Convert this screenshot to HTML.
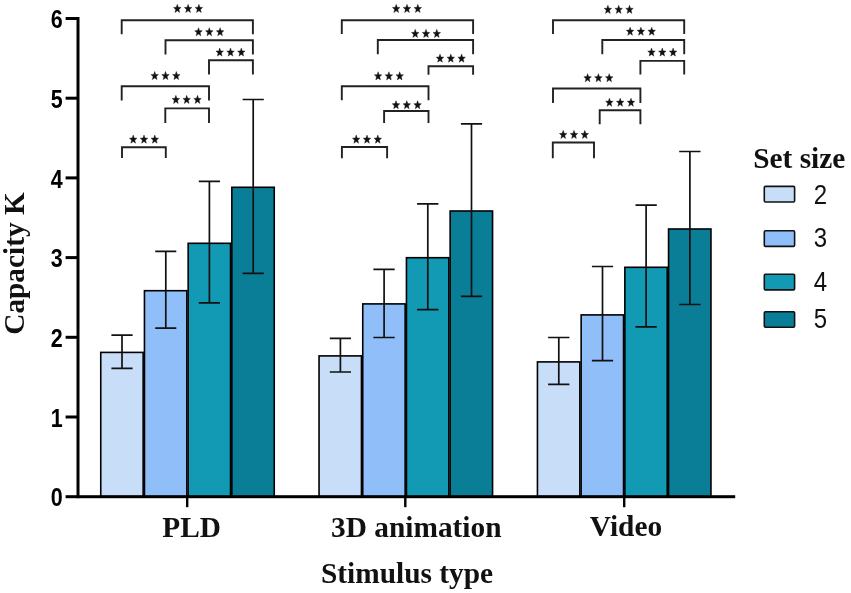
<!DOCTYPE html>
<html><head><meta charset="utf-8"><title>Capacity K by stimulus type</title>
<style>
html,body{margin:0;padding:0;background:#fff;}
body{width:851px;height:593px;overflow:hidden;}
svg{display:block;filter:blur(0.35px);}
.sb{font-family:"Liberation Serif",serif;font-weight:bold;font-size:29.35px;fill:#111;}
.nb{font-family:"Liberation Sans",sans-serif;font-weight:bold;font-size:25px;fill:#000;}
.nr{font-family:"Liberation Sans",sans-serif;font-size:27.6px;fill:#111;}
.st{font-family:"Liberation Sans",sans-serif;font-size:26px;fill:#111;}
</style></head><body>
<svg width="851" height="593" viewBox="0 0 851 593">
<rect width="851" height="593" fill="#fff"/>

<g stroke="#000" stroke-width="1.6">
<rect x="100.75" y="352.4" width="42.4" height="144.3" fill="#c8ddf8"/>
<rect x="144.45" y="290.7" width="42.4" height="206.0" fill="#90bef8"/>
<rect x="188.15" y="243.3" width="42.4" height="253.4" fill="#1299b4"/>
<rect x="231.85" y="187.3" width="42.4" height="309.4" fill="#0a7e96"/>
</g>
<g stroke="#111" stroke-width="1.7" fill="none">
<path d="M111.4 335.1H132.6M111.4 368.4H132.6M122.0 335.1V368.4"/>
<path d="M155.2 251.3H176.3M155.2 328.1H176.3M165.8 251.3V328.1"/>
<path d="M198.8 181.3H220.0M198.8 302.8H220.0M209.4 181.3V302.8"/>
<path d="M242.6 99.5H263.8M242.6 273.4H263.8M253.2 99.5V273.4"/>
</g>
<g stroke="#000" stroke-width="1.6">
<rect x="319.05" y="355.9" width="42.4" height="140.8" fill="#c8ddf8"/>
<rect x="362.75" y="303.9" width="42.4" height="192.8" fill="#90bef8"/>
<rect x="406.45" y="257.7" width="42.4" height="239.0" fill="#1299b4"/>
<rect x="450.15" y="211.0" width="42.4" height="285.7" fill="#0a7e96"/>
</g>
<g stroke="#111" stroke-width="1.7" fill="none">
<path d="M329.8 338.4H351.0M329.8 372.0H351.0M340.4 338.4V372.0"/>
<path d="M373.4 269.3H394.7M373.4 337.5H394.7M384.1 269.3V337.5"/>
<path d="M417.1 203.9H438.4M417.1 309.6H438.4M427.8 203.9V309.6"/>
<path d="M460.9 123.9H482.1M460.9 296.4H482.1M471.5 123.9V296.4"/>
</g>
<g stroke="#000" stroke-width="1.6">
<rect x="537.45" y="361.9" width="42.4" height="134.8" fill="#c8ddf8"/>
<rect x="581.15" y="314.9" width="42.4" height="181.8" fill="#90bef8"/>
<rect x="624.85" y="267.3" width="42.4" height="229.4" fill="#1299b4"/>
<rect x="668.55" y="229.0" width="42.4" height="267.7" fill="#0a7e96"/>
</g>
<g stroke="#111" stroke-width="1.7" fill="none">
<path d="M548.1 337.5H569.4M548.1 384.4H569.4M558.8 337.5V384.4"/>
<path d="M591.9 266.5H613.1M591.9 360.7H613.1M602.5 266.5V360.7"/>
<path d="M635.5 205.1H656.8M635.5 326.8H656.8M646.1 205.1V326.8"/>
<path d="M679.2 151.5H700.5M679.2 304.5H700.5M689.9 151.5V304.5"/>
</g>
<g fill="#000">
<rect x="76.5" y="17.0" width="3" height="481.2"/>
<rect x="65.6" y="495.2" width="669.6" height="3"/>
<rect x="65.6" y="415.5" width="12" height="3"/>
<rect x="65.6" y="335.8" width="12" height="3"/>
<rect x="65.6" y="256.1" width="12" height="3"/>
<rect x="65.6" y="176.4" width="12" height="3"/>
<rect x="65.6" y="96.7" width="12" height="3"/>
<rect x="65.6" y="17.0" width="12" height="3"/>
<rect x="186.0" y="496.7" width="2.4" height="10.5"/>
<rect x="404.1" y="496.7" width="2.4" height="10.5"/>
<rect x="623.0" y="496.7" width="2.4" height="10.5"/>
</g>
<text class="nb" transform="translate(62.6 506.4) scale(0.86 1)" text-anchor="end">0</text>
<text class="nb" transform="translate(62.6 426.7) scale(0.86 1)" text-anchor="end">1</text>
<text class="nb" transform="translate(62.6 347.0) scale(0.86 1)" text-anchor="end">2</text>
<text class="nb" transform="translate(62.6 267.3) scale(0.86 1)" text-anchor="end">3</text>
<text class="nb" transform="translate(62.6 187.6) scale(0.86 1)" text-anchor="end">4</text>
<text class="nb" transform="translate(62.6 107.9) scale(0.86 1)" text-anchor="end">5</text>
<text class="nb" transform="translate(62.6 28.2) scale(0.86 1)" text-anchor="end">6</text>
<g stroke="#222" stroke-width="1.9" fill="none" stroke-linejoin="miter">
<path d="M121.7 34.3V20.2H252.9V34.3"/>
<path d="M165.5 54.4V40.2H252.9V54.4"/>
<path d="M209.0 74.5V60.2H252.9V74.5"/>
<path d="M121.7 100.6V86.2H209.0V100.6"/>
<path d="M165.3 123.1V108.4H209.0V123.1"/>
<path d="M122.0 158.1V147.2H165.8V158.1"/>
<path d="M341.8 34.1V20.2H473.1V34.1"/>
<path d="M377.8 54.2V40.0H473.1V54.2"/>
<path d="M428.5 74.8V66.3H473.1V74.8"/>
<path d="M341.8 100.3V86.2H428.5V100.3"/>
<path d="M384.1 122.9V111.0H428.5V122.9"/>
<path d="M341.9 158.3V147.0H387.1V158.3"/>
<path d="M553.0 34.1V20.2H684.2V34.1"/>
<path d="M602.3 54.3V40.0H684.2V54.3"/>
<path d="M640.4 74.5V60.9H684.2V74.5"/>
<path d="M553.0 103.0V88.5H640.4V103.0"/>
<path d="M599.7 124.3V110.2H640.4V124.3"/>
<path d="M552.8 158.3V142.5H594.0V158.3"/>
</g>
<g fill="#111" stroke="#111" stroke-width="0.4" stroke-linejoin="round">
<path d="M177.30 4.36L178.31 7.28L181.07 7.47L178.93 9.46L179.63 12.50L177.30 10.81L174.97 12.50L175.67 9.46L173.53 7.47L176.29 7.28ZM188.10 4.36L189.11 7.28L191.87 7.47L189.73 9.46L190.43 12.50L188.10 10.81L185.77 12.50L186.47 9.46L184.33 7.47L187.09 7.28ZM198.90 4.36L199.91 7.28L202.67 7.47L200.53 9.46L201.23 12.50L198.90 10.81L196.57 12.50L197.27 9.46L195.13 7.47L197.89 7.28Z"/>
<path d="M198.50 27.66L199.51 30.58L202.27 30.77L200.13 32.76L200.83 35.80L198.50 34.11L196.17 35.80L196.87 32.76L194.73 30.77L197.49 30.58ZM209.30 27.66L210.31 30.58L213.07 30.77L210.93 32.76L211.63 35.80L209.30 34.11L206.97 35.80L207.67 32.76L205.53 30.77L208.29 30.58ZM220.10 27.66L221.11 30.58L223.87 30.77L221.73 32.76L222.43 35.80L220.10 34.11L217.77 35.80L218.47 32.76L216.33 30.77L219.09 30.58Z"/>
<path d="M219.70 47.96L220.71 50.88L223.47 51.07L221.33 53.06L222.03 56.10L219.70 54.41L217.37 56.10L218.07 53.06L215.93 51.07L218.69 50.88ZM230.50 47.96L231.51 50.88L234.27 51.07L232.13 53.06L232.83 56.10L230.50 54.41L228.17 56.10L228.87 53.06L226.73 51.07L229.49 50.88ZM241.30 47.96L242.31 50.88L245.07 51.07L242.93 53.06L243.63 56.10L241.30 54.41L238.97 56.10L239.67 53.06L237.53 51.07L240.29 50.88Z"/>
<path d="M154.70 71.46L155.71 74.38L158.47 74.57L156.33 76.56L157.03 79.60L154.70 77.91L152.37 79.60L153.07 76.56L150.93 74.57L153.69 74.38ZM165.50 71.46L166.51 74.38L169.27 74.57L167.13 76.56L167.83 79.60L165.50 77.91L163.17 79.60L163.87 76.56L161.73 74.57L164.49 74.38ZM176.30 71.46L177.31 74.38L180.07 74.57L177.93 76.56L178.63 79.60L176.30 77.91L173.97 79.60L174.67 76.56L172.53 74.57L175.29 74.38Z"/>
<path d="M175.90 95.36L176.91 98.28L179.67 98.47L177.53 100.46L178.23 103.50L175.90 101.81L173.57 103.50L174.27 100.46L172.13 98.47L174.89 98.28ZM186.70 95.36L187.71 98.28L190.47 98.47L188.33 100.46L189.03 103.50L186.70 101.81L184.37 103.50L185.07 100.46L182.93 98.47L185.69 98.28ZM197.50 95.36L198.51 98.28L201.27 98.47L199.13 100.46L199.83 103.50L197.50 101.81L195.17 103.50L195.87 100.46L193.73 98.47L196.49 98.28Z"/>
<path d="M133.20 135.06L134.21 137.98L136.97 138.17L134.83 140.16L135.53 143.20L133.20 141.51L130.87 143.20L131.57 140.16L129.43 138.17L132.19 137.98ZM144.00 135.06L145.01 137.98L147.77 138.17L145.63 140.16L146.33 143.20L144.00 141.51L141.67 143.20L142.37 140.16L140.23 138.17L142.99 137.98ZM154.80 135.06L155.81 137.98L158.57 138.17L156.43 140.16L157.13 143.20L154.80 141.51L152.47 143.20L153.17 140.16L151.03 138.17L153.79 137.98Z"/>
<path d="M396.20 4.36L397.21 7.28L399.97 7.47L397.83 9.46L398.53 12.50L396.20 10.81L393.87 12.50L394.57 9.46L392.43 7.47L395.19 7.28ZM407.00 4.36L408.01 7.28L410.77 7.47L408.63 9.46L409.33 12.50L407.00 10.81L404.67 12.50L405.37 9.46L403.23 7.47L405.99 7.28ZM417.80 4.36L418.81 7.28L421.57 7.47L419.43 9.46L420.13 12.50L417.80 10.81L415.47 12.50L416.17 9.46L414.03 7.47L416.79 7.28Z"/>
<path d="M415.20 29.36L416.21 32.28L418.97 32.47L416.83 34.46L417.53 37.50L415.20 35.81L412.87 37.50L413.57 34.46L411.43 32.47L414.19 32.28ZM426.00 29.36L427.01 32.28L429.77 32.47L427.63 34.46L428.33 37.50L426.00 35.81L423.67 37.50L424.37 34.46L422.23 32.47L424.99 32.28ZM436.80 29.36L437.81 32.28L440.57 32.47L438.43 34.46L439.13 37.50L436.80 35.81L434.47 37.50L435.17 34.46L433.03 32.47L435.79 32.28Z"/>
<path d="M440.00 54.06L441.01 56.98L443.77 57.17L441.63 59.16L442.33 62.20L440.00 60.51L437.67 62.20L438.37 59.16L436.23 57.17L438.99 56.98ZM450.80 54.06L451.81 56.98L454.57 57.17L452.43 59.16L453.13 62.20L450.80 60.51L448.47 62.20L449.17 59.16L447.03 57.17L449.79 56.98ZM461.60 54.06L462.61 56.98L465.37 57.17L463.23 59.16L463.93 62.20L461.60 60.51L459.27 62.20L459.97 59.16L457.83 57.17L460.59 56.98Z"/>
<path d="M378.10 71.76L379.11 74.68L381.87 74.87L379.73 76.86L380.43 79.90L378.10 78.21L375.77 79.90L376.47 76.86L374.33 74.87L377.09 74.68ZM388.90 71.76L389.91 74.68L392.67 74.87L390.53 76.86L391.23 79.90L388.90 78.21L386.57 79.90L387.27 76.86L385.13 74.87L387.89 74.68ZM399.70 71.76L400.71 74.68L403.47 74.87L401.33 76.86L402.03 79.90L399.70 78.21L397.37 79.90L398.07 76.86L395.93 74.87L398.69 74.68Z"/>
<path d="M396.00 100.66L397.01 103.58L399.77 103.77L397.63 105.76L398.33 108.80L396.00 107.11L393.67 108.80L394.37 105.76L392.23 103.77L394.99 103.58ZM406.80 100.66L407.81 103.58L410.57 103.77L408.43 105.76L409.13 108.80L406.80 107.11L404.47 108.80L405.17 105.76L403.03 103.77L405.79 103.58ZM417.60 100.66L418.61 103.58L421.37 103.77L419.23 105.76L419.93 108.80L417.60 107.11L415.27 108.80L415.97 105.76L413.83 103.77L416.59 103.58Z"/>
<path d="M356.20 135.06L357.21 137.98L359.97 138.17L357.83 140.16L358.53 143.20L356.20 141.51L353.87 143.20L354.57 140.16L352.43 138.17L355.19 137.98ZM367.00 135.06L368.01 137.98L370.77 138.17L368.63 140.16L369.33 143.20L367.00 141.51L364.67 143.20L365.37 140.16L363.23 138.17L365.99 137.98ZM377.80 135.06L378.81 137.98L381.57 138.17L379.43 140.16L380.13 143.20L377.80 141.51L375.47 143.20L376.17 140.16L374.03 138.17L376.79 137.98Z"/>
<path d="M607.90 5.26L608.91 8.18L611.67 8.37L609.53 10.36L610.23 13.40L607.90 11.71L605.57 13.40L606.27 10.36L604.13 8.37L606.89 8.18ZM618.70 5.26L619.71 8.18L622.47 8.37L620.33 10.36L621.03 13.40L618.70 11.71L616.37 13.40L617.07 10.36L614.93 8.37L617.69 8.18ZM629.50 5.26L630.51 8.18L633.27 8.37L631.13 10.36L631.83 13.40L629.50 11.71L627.17 13.40L627.87 10.36L625.73 8.37L628.49 8.18Z"/>
<path d="M630.10 27.16L631.11 30.08L633.87 30.27L631.73 32.26L632.43 35.30L630.10 33.61L627.77 35.30L628.47 32.26L626.33 30.27L629.09 30.08ZM640.90 27.16L641.91 30.08L644.67 30.27L642.53 32.26L643.23 35.30L640.90 33.61L638.57 35.30L639.27 32.26L637.13 30.27L639.89 30.08ZM651.70 27.16L652.71 30.08L655.47 30.27L653.33 32.26L654.03 35.30L651.70 33.61L649.37 35.30L650.07 32.26L647.93 30.27L650.69 30.08Z"/>
<path d="M651.50 47.96L652.51 50.88L655.27 51.07L653.13 53.06L653.83 56.10L651.50 54.41L649.17 56.10L649.87 53.06L647.73 51.07L650.49 50.88ZM662.30 47.96L663.31 50.88L666.07 51.07L663.93 53.06L664.63 56.10L662.30 54.41L659.97 56.10L660.67 53.06L658.53 51.07L661.29 50.88ZM673.10 47.96L674.11 50.88L676.87 51.07L674.73 53.06L675.43 56.10L673.10 54.41L670.77 56.10L671.47 53.06L669.33 51.07L672.09 50.88Z"/>
<path d="M587.60 73.66L588.61 76.58L591.37 76.77L589.23 78.76L589.93 81.80L587.60 80.11L585.27 81.80L585.97 78.76L583.83 76.77L586.59 76.58ZM598.40 73.66L599.41 76.58L602.17 76.77L600.03 78.76L600.73 81.80L598.40 80.11L596.07 81.80L596.77 78.76L594.63 76.77L597.39 76.58ZM609.20 73.66L610.21 76.58L612.97 76.77L610.83 78.76L611.53 81.80L609.20 80.11L606.87 81.80L607.57 78.76L605.43 76.77L608.19 76.58Z"/>
<path d="M609.40 98.16L610.41 101.08L613.17 101.27L611.03 103.26L611.73 106.30L609.40 104.61L607.07 106.30L607.77 103.26L605.63 101.27L608.39 101.08ZM620.20 98.16L621.21 101.08L623.97 101.27L621.83 103.26L622.53 106.30L620.20 104.61L617.87 106.30L618.57 103.26L616.43 101.27L619.19 101.08ZM631.00 98.16L632.01 101.08L634.77 101.27L632.63 103.26L633.33 106.30L631.00 104.61L628.67 106.30L629.37 103.26L627.23 101.27L629.99 101.08Z"/>
<path d="M563.20 130.36L564.21 133.28L566.97 133.47L564.83 135.46L565.53 138.50L563.20 136.81L560.87 138.50L561.57 135.46L559.43 133.47L562.19 133.28ZM574.00 130.36L575.01 133.28L577.77 133.47L575.63 135.46L576.33 138.50L574.00 136.81L571.67 138.50L572.37 135.46L570.23 133.47L572.99 133.28ZM584.80 130.36L585.81 133.28L588.57 133.47L586.43 135.46L587.13 138.50L584.80 136.81L582.47 138.50L583.17 135.46L581.03 133.47L583.79 133.28Z"/>
</g>
<text class="sb" x="191.7" y="536.6" text-anchor="middle">PLD</text>
<text class="sb" x="416.3" y="536.6" text-anchor="middle">3D animation</text>
<text class="sb" x="626" y="535.6" text-anchor="middle">Video</text>
<text class="sb" x="407" y="583.4" text-anchor="middle">Stimulus type</text>
<text class="sb" transform="translate(23.6 263.5) rotate(-90)" text-anchor="middle">Capacity K</text>
<text class="sb" x="799.3" y="167.7" text-anchor="middle">Set size</text>
<rect x="764.3" y="186.4" width="30.3" height="15.6" rx="1.2" fill="#c8ddf8" stroke="#111" stroke-width="1.6"/>
<text class="nr" transform="translate(813.8 203.6) scale(0.87 1)">2</text>
<rect x="764.3" y="230.8" width="30.3" height="15.6" rx="1.2" fill="#90bef8" stroke="#111" stroke-width="1.6"/>
<text class="nr" transform="translate(813.8 247.4) scale(0.87 1)">3</text>
<rect x="764.3" y="274.3" width="30.3" height="15.6" rx="1.2" fill="#1299b4" stroke="#111" stroke-width="1.6"/>
<text class="nr" transform="translate(813.8 291.3) scale(0.87 1)">4</text>
<rect x="764.3" y="311.7" width="30.3" height="15.6" rx="1.2" fill="#0a7e96" stroke="#111" stroke-width="1.6"/>
<text class="nr" transform="translate(813.8 328.0) scale(0.87 1)">5</text>
</svg></body></html>
